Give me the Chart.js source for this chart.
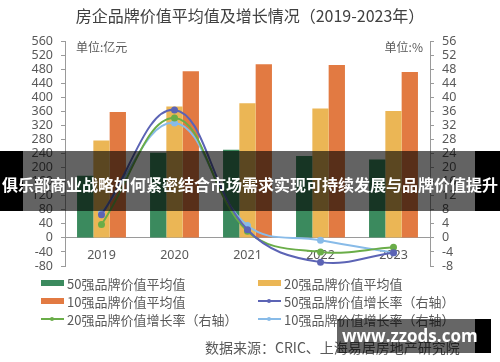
<!DOCTYPE html>
<html>
<head>
<meta charset="utf-8">
<script src="https://cdn.jsdelivr.net/npm/chart.js@4.4.1/dist/chart.umd.min.js"></script>
<style>
  body { margin: 0; background: #fff; }
  #wrap { position: relative; width: 500px; height: 362px; font-family: "Noto Sans CJK SC", "Noto Sans", sans-serif; color: #595959; }
  #chart { position: absolute; left: 0; top: 0; }
  .abs { position: absolute; white-space: nowrap; }
  #title { left: 0; width: 500px; top: 4px; text-align: center; font-size: 16px; color: #404040; line-height: 22px; }
  #unitL { left: 76px; top: 39px; font-size: 12px; line-height: 16px; }
  #unitR { right: 77px; top: 39px; font-size: 12px; line-height: 16px; }
  #legend { left: 41px; top: 274px; display: grid; grid-template-columns: 217px auto; grid-auto-rows: 18px; font-size: 13px; }
  .item { display: flex; align-items: center; }
  .mark { position: relative; width: 23px; height: 18px; margin-right: 3px; }
  .bar { position: absolute; left: 0; top: 6px; width: 23px; height: 6px; }
  .ln { position: absolute; left: 0; top: 8px; width: 23px; height: 2px; }
  .dot { position: absolute; left: 9px; top: 7px; width: 4px; height: 4px; border-radius: 50%; }
  #source { left: 205px; top: 338px; font-size: 14px; line-height: 18px; }
  #banner { left: 0; top: 151px; width: 500px; height: 60px; background: rgba(0,0,0,0.61); }
  #banner .edgeL { position: absolute; left: 0; top: 0; width: 23px; height: 60px; background: #000; }
  #banner .edgeR { position: absolute; right: 0; top: 0; width: 25px; height: 60px; background: #000; }
  #banner .txt { position: absolute; left: 0; width: 500px; top: 22px; text-align: center; color: #fff; font-weight: bold; font-size: 16px; line-height: 22px; }
  #wm { left: 337px; top: 319px; width: 138px; height: 34px; background: rgba(0,0,0,0.6); }
  #wm .edge { position: absolute; left: 138px; top: 0; width: 16px; height: 34px; background: #000; }
  #wm .txt { position: absolute; left: 5px; top: 6px; color: #fff; font-weight: bold; font-size: 17px; line-height: 22px; font-family: "Open Sans", sans-serif; }
</style>
</head>
<body>
<div id="wrap">
  <canvas id="chart" width="500" height="362"></canvas>
  <div id="title" class="abs">房企品牌价值平均值及增长情况（2019-2023年）</div>
  <div id="unitL" class="abs">单位:亿元</div>
  <div id="unitR" class="abs">单位:%</div>
  <div id="legend" class="abs"></div>
  <div id="source" class="abs">数据来源：CRIC、上海易居房地产研究院</div>
  <div id="banner" class="abs">
    <div class="edgeL"></div><div class="edgeR"></div>
    <div class="txt">俱乐部商业战略如何紧密结合市场需求实现可持续发展与品牌价值提升</div>
  </div>
  <div id="wm" class="abs"><div class="edge"></div><div class="txt">www.zzods.com</div></div>
</div>
<script>
const years = ["2019", "2020", "2021", "2022", "2023"];

// average brand value, 亿元 (left axis)
const top50Avg = [177, 242, 251, 233, 223];
const top20Avg = [277, 374, 383, 368, 361];
const top10Avg = [358, 474, 494, 492, 472];

// growth rate, % (right axis)
const top50Growth = [6.6, 36.4, 2.3, -6.9, -4.2];
const top20Growth = [3.8, 34.1, 1.9, -4.0, -2.7];
const top10Growth = [7.1, 32.7, 3.5, -0.7, -4.2];

const leftTicks = { min: -80, max: 560, step: 40 };
const rightTicks = { min: -8, max: 56, step: 4 };

const green = "#3b8a5e";
const yellow = "#ebb655";
const orange = "#e27a42";
const navy = "#5c64b5";
const lime = "#6aad48";
const sky = "#88bbe8";

function barSet(label, data, color) {
  return {
    type: "bar",
    label: label,
    data: data,
    backgroundColor: color,
    yAxisID: "y",
    order: 2,
    barPercentage: 1,
    categoryPercentage: 0.67,
  };
}

function lineSet(label, data, color) {
  return {
    type: "line",
    label: label,
    data: data,
    borderColor: color,
    backgroundColor: color,
    borderWidth: 2,
    pointRadius: 2.5,
    pointHoverRadius: 2.5,
    tension: 0.4,
    yAxisID: "y1",
    order: 1,
  };
}

const datasets = [
  barSet("50强品牌价值平均值", top50Avg, green),
  barSet("20强品牌价值平均值", top20Avg, yellow),
  barSet("10强品牌价值平均值", top10Avg, orange),
  lineSet("50强品牌价值增长率（右轴）", top50Growth, navy),
  lineSet("20强品牌价值增长率（右轴）", top20Growth, lime),
  lineSet("10强品牌价值增长率（右轴）", top10Growth, sky),
];

const tickFont = { family: "'Noto Sans', sans-serif", size: 12.5 };
const axisGrey = "#9a9a9a";

new Chart(document.getElementById("chart"), {
  data: { labels: years, datasets: datasets },
  options: {
    responsive: false,
    animation: false,
    layout: { padding: { top: 41, bottom: 96, left: 0, right: 0 } },
    plugins: { legend: { display: false }, title: { display: false }, tooltip: { enabled: false } },
    scales: {
      x: {
        position: { y: 0 },
        grid: { display: false },
        border: { display: true, color: axisGrey },
        ticks: { color: "#595959", font: tickFont, padding: 2 },
      },
      y: {
        position: "left",
        min: leftTicks.min,
        max: leftTicks.max,
        ticks: { stepSize: leftTicks.step, autoSkip: false, color: "#595959", font: tickFont, padding: 8 },
        grid: { drawOnChartArea: false, color: axisGrey, tickLength: 4 },
        border: { color: axisGrey },
        afterFit: (s) => { s.width = 65; },
      },
      y1: {
        position: "right",
        min: rightTicks.min,
        max: rightTicks.max,
        ticks: { stepSize: rightTicks.step, autoSkip: false, color: "#595959", font: tickFont, padding: 8 },
        grid: { drawOnChartArea: false, color: axisGrey, tickLength: 4 },
        border: { color: axisGrey },
        afterFit: (s) => { s.width = 70; },
      },
    },
  },
});

// legend in two columns, built from the datasets
const legend = document.getElementById("legend");
datasets.forEach((ds) => {
  const item = document.createElement("div");
  item.className = "item";
  const mark = document.createElement("span");
  mark.className = "mark";
  if (ds.type === "bar") {
    mark.innerHTML = '<span class="bar" style="background:' + ds.backgroundColor + '"></span>';
  } else {
    mark.innerHTML = '<span class="ln" style="background:' + ds.borderColor + '"></span>' +
      '<span class="dot" style="background:' + ds.borderColor + '"></span>';
  }
  item.appendChild(mark);
  item.appendChild(document.createTextNode(ds.label));
  legend.appendChild(item);
});
</script>
</body>
</html>
